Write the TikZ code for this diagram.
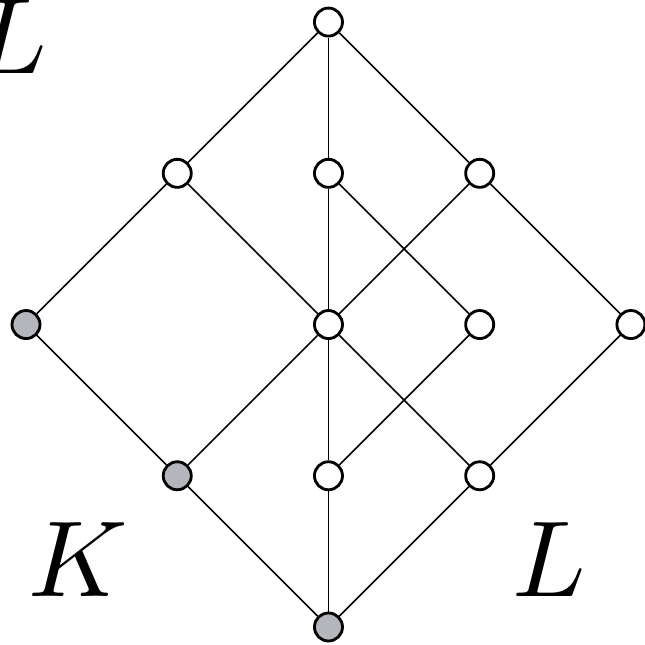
\documentclass[tikz,border=0pt]{standalone}
\usepackage{amsmath}
\usepackage{amssymb}
\usepackage{tikz}
\usepackage{xcolor}
\definecolor{dotgray}{RGB}{180,182,188}
\begin{document}
\begin{tikzpicture}[x=1.5cm,y=1.5cm,
  pt/.style={circle,draw,line width=0.8pt,fill=white,minimum size=0.278cm,inner sep=0pt},
  gpt/.style={pt,fill=dotgray},
  lab/.style={scale=3.05}]
\useasboundingbox (-0.172,-0.119) rectangle (4.093,4.146);
\node[pt] (t) at (2,4) {};
\node[pt] (a1) at (1,3) {};
\node[pt] (a2) at (2,3) {};
\node[pt] (a3) at (3,3) {};
\node[gpt] (b1) at (0,2) {};
\node[pt] (b2) at (2,2) {};
\node[pt] (b3) at (3,2) {};
\node[pt] (b4) at (4,2) {};
\node[gpt] (c1) at (1,1) {};
\node[pt] (c2) at (2,1) {};
\node[pt] (c3) at (3,1) {};
\node[gpt] (z) at (2,0) {};
\foreach \u/\v in {t/a1,t/a2,t/a3,a1/b1,a1/b2,a2/b2,a2/b3,a3/b2,a3/b4,
  b1/c1,b2/c1,b2/c2,b2/c3,b3/c2,b4/c3,c1/z,c2/z,c3/z}
{ \draw[line width=0.45pt] (\u)--(\v);
}
\node[lab] (lt) at (-0.106,3.907) {$L$};
\node[lab] (k) at (0.344,0.444) {$K$};
\node[lab] (lb) at (3.457,0.444) {$L$};
\end{tikzpicture}
\end{document}
